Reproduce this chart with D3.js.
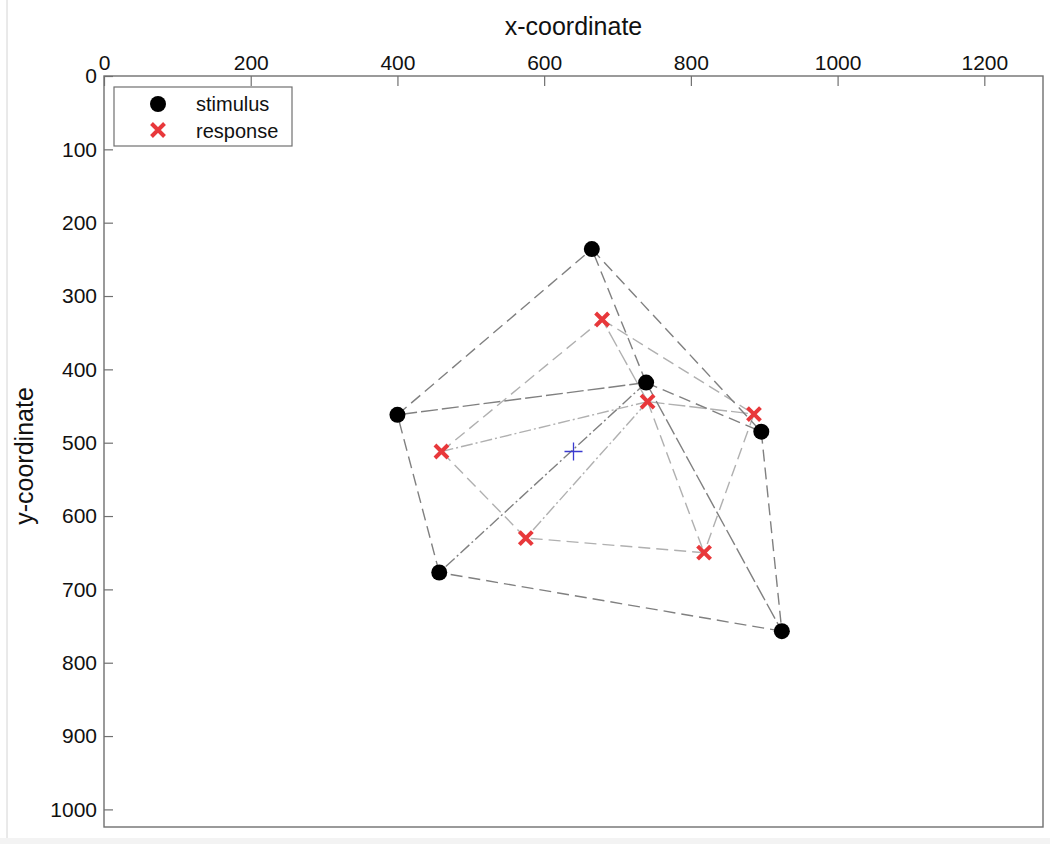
<!DOCTYPE html>
<html>
<head>
<meta charset="utf-8">
<script src="https://cdn.jsdelivr.net/npm/d3@7"></script>
<style>
  html, body { margin: 0; padding: 0; background: #fff; }
  svg { display: block; font-family: "Liberation Sans", Arial, Helvetica, sans-serif; }
</style>
</head>
<body>
<svg id="chart" width="1050" height="844"></svg>
<script>
// stimulus / response positions in screen coordinates (1280 x 1024 display)
const NODE_IDS = ["top", "centre", "left", "right", "lowLeft", "lowRight"];
const STIM_X = [665, 739, 400, 896, 457, 924];
const STIM_Y = [236, 418, 462, 485, 677, 757];
const RESP_X = [679, 741, 460, 886, 575, 818];
const RESP_Y = [332, 444, 512, 461, 630, 650];
const FIX = [640, 512];

// edges between nodes (indices into NODE_IDS) with line style per set
const EDGES = [
  [0, 3], [3, 5], [5, 4], [4, 2], [2, 0],   // outer pentagon
  [1, 0], [1, 2], [1, 4], [1, 3], [1, 5]    // spokes from the centre node
];
const STIM_STYLE = ["dash", "dash", "dash", "dash", "dash", "dash", "long", "dashdot", "dash", "long"];
const RESP_STYLE = ["dash", "dash", "dash", "dash", "dash", "long", "dashdot", "dashdot", "long", "dash"];

const X_TICKS = [0, 200, 400, 600, 800, 1000, 1200];
const Y_TICKS = [0, 100, 200, 300, 400, 500, 600, 700, 800, 900, 1000];

const DASH = { dash: "12,6", long: "17,4", dashdot: "12,3,2,3" };

const svg = d3.select("#chart");
const M = { left: 104, top: 76, right: 1043, bottom: 827 };

// figure frame remnants
svg.append("line").attr("x1", 7).attr("x2", 7).attr("y1", 0).attr("y2", 838)
  .attr("stroke", "#d4d4d4").attr("stroke-width", 1);
svg.append("rect").attr("x", 0).attr("y", 838).attr("width", 1050).attr("height", 6)
  .attr("fill", "#f3f3f3");

const x = d3.scaleLinear().domain([0, 1280]).range([M.left, M.right]);
const y = d3.scaleLinear().domain([0, 1024]).range([M.top, M.bottom]);

// axes: MATLAB-style ticks pointing inward
const xAxis = svg.append("g").attr("transform", `translate(0,${M.top})`)
  .call(d3.axisTop(x).tickValues(X_TICKS).tickFormat(d3.format("d"))
    .tickSizeInner(-10).tickSizeOuter(0).tickPadding(6));
const yAxis = svg.append("g").attr("transform", `translate(${M.left},0)`)
  .call(d3.axisLeft(y).tickValues(Y_TICKS).tickFormat(d3.format("d"))
    .tickSizeInner(-9).tickSizeOuter(0).tickPadding(7));
[xAxis, yAxis].forEach(a => {
  a.select(".domain").remove();
  a.selectAll(".tick line").attr("stroke", "#707070").attr("stroke-width", 1.2);
  a.selectAll(".tick text").attr("fill", "#111").style("font-size", "21px");
});

// plot box
svg.append("rect")
  .attr("x", M.left).attr("y", M.top)
  .attr("width", M.right - M.left).attr("height", M.bottom - M.top)
  .attr("fill", "none").attr("stroke", "#707070").attr("stroke-width", 1.4);

// axis titles
svg.append("text").attr("x", (M.left + M.right) / 2).attr("y", 35)
  .attr("text-anchor", "middle").style("font-size", "25px").attr("fill", "#111")
  .text("x-coordinate");
svg.append("text").attr("transform", "translate(33,456) rotate(-90)")
  .attr("text-anchor", "middle").style("font-size", "25px").attr("fill", "#111")
  .text("y-coordinate");

const plot = svg.append("g");

function drawEdges(xs, ys, styles, colour) {
  plot.append("g").selectAll("line")
    .data(EDGES).join("line")
    .attr("x1", d => x(xs[d[0]])).attr("y1", d => y(ys[d[0]]))
    .attr("x2", d => x(xs[d[1]])).attr("y2", d => y(ys[d[1]]))
    .attr("stroke", colour).attr("stroke-width", 1.4)
    .attr("stroke-dasharray", (d, i) => DASH[styles[i]]);
}
drawEdges(RESP_X, RESP_Y, RESP_STYLE, "#b0b0b0");
drawEdges(STIM_X, STIM_Y, STIM_STYLE, "#808080");

// stimulus dots
plot.append("g").selectAll("circle")
  .data(NODE_IDS).join("circle")
  .attr("cx", (d, i) => x(STIM_X[i])).attr("cy", (d, i) => y(STIM_Y[i]))
  .attr("r", 8).attr("fill", "#000");

// response crosses
const crossPath = s => `M${-s},${-s}L${s},${s}M${-s},${s}L${s},${-s}`;
plot.append("g").selectAll("path")
  .data(NODE_IDS).join("path")
  .attr("transform", (d, i) => `translate(${x(RESP_X[i])},${y(RESP_Y[i])})`)
  .attr("d", crossPath(6.5))
  .attr("stroke", "#e8383b").attr("stroke-width", 4).attr("fill", "none");

// fixation cross at screen centre
plot.append("path")
  .attr("transform", `translate(${x(FIX[0])},${y(FIX[1])})`)
  .attr("d", "M-9,0H9M0,-9V9")
  .attr("stroke", "#3a3ad0").attr("stroke-width", 1.3).attr("fill", "none");

// legend
const lg = svg.append("g").attr("transform", "translate(114,87)");
lg.append("rect").attr("width", 178).attr("height", 59)
  .attr("fill", "#fff").attr("stroke", "#707070").attr("stroke-width", 1.2);
lg.append("circle").attr("cx", 44).attr("cy", 17).attr("r", 8).attr("fill", "#000");
lg.append("path").attr("transform", "translate(44,43)").attr("d", crossPath(6.5))
  .attr("stroke", "#e8383b").attr("stroke-width", 4).attr("fill", "none");
lg.append("text").attr("x", 82).attr("y", 24).style("font-size", "20px").attr("fill", "#111").text("stimulus");
lg.append("text").attr("x", 82).attr("y", 51).style("font-size", "20px").attr("fill", "#111").text("response");
</script>
</body>
</html>
